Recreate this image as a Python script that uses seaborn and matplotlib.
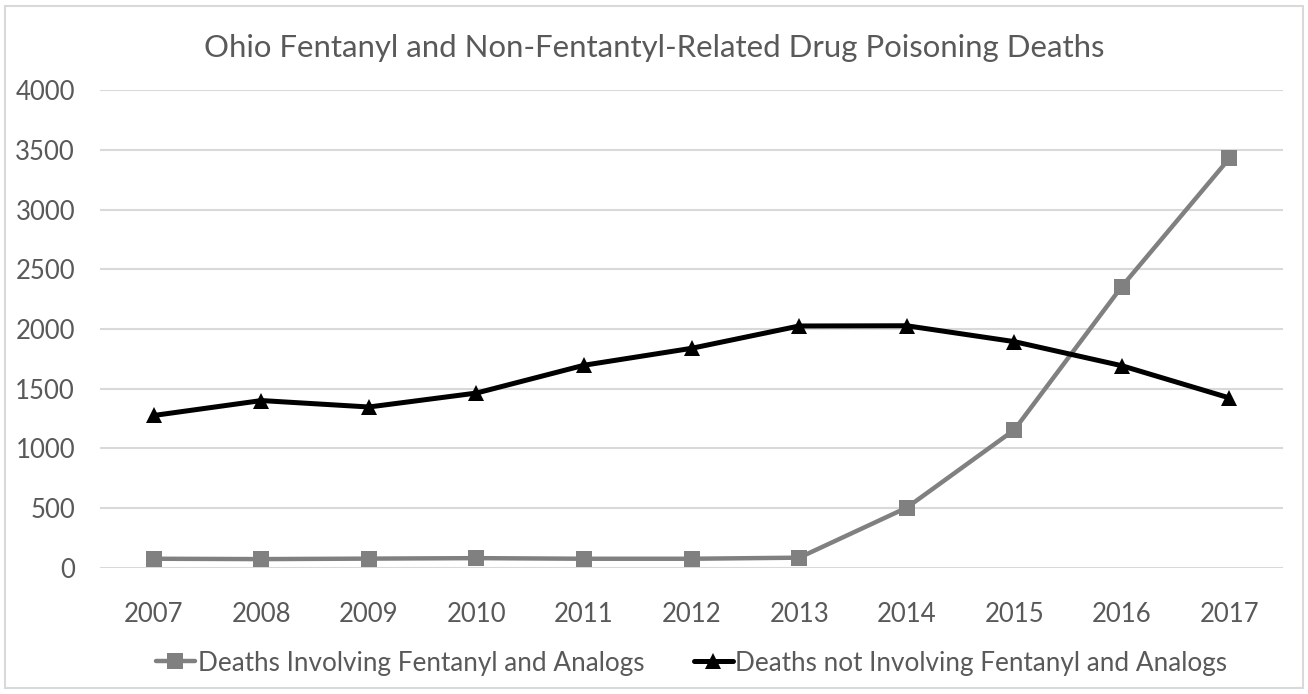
import pandas as pd
import seaborn as sns
import matplotlib.pyplot as plt
from matplotlib.patches import Rectangle

years = [2007, 2008, 2009, 2010, 2011, 2012, 2013, 2014, 2015, 2016, 2017]
fentanyl = [75, 72, 76, 80, 75, 75, 84, 503, 1155, 2357, 3431]
non_fentanyl = [1276, 1401, 1347, 1464, 1697, 1839, 2026, 2028, 1895, 1693, 1423]
labels = ["Deaths Involving Fentanyl and Analogs",
          "Deaths not Involving Fentanyl and Analogs"]
title = "Ohio Fentanyl and Non-Fentantyl-Related Drug Poisoning Deaths"

TEXT = "#595959"

sns.set_theme(style="white")
plt.rcParams['font.family'] = ['Lato', 'DejaVu Sans']

df = pd.DataFrame({"Year": years * 2,
                   "Deaths": fentanyl + non_fentanyl,
                   "Series": [labels[0]] * len(years) + [labels[1]] * len(years)})

fig = plt.figure(figsize=(13.08, 6.94), dpi=100)
ax = fig.add_axes([0.0765, 0.182, 0.9045, 0.6876])

sns.lineplot(data=df, x="Year", y="Deaths", hue="Series", style="Series",
             palette={labels[0]: "#808080", labels[1]: "#000000"},
             markers={labels[0]: "s", labels[1]: "^"},
             dashes=False, markersize=12, markeredgewidth=0, ax=ax)
for line, lw in zip(ax.lines, [3.2, 3.6]):
    line.set_linewidth(lw)

ax.set_xlim(2006.5, 2017.5)
ax.set_ylim(0, 4000)
ax.set_yticks(range(0, 4001, 500))
ax.set_xticks(years)
ax.set_xticklabels([str(y) for y in years])
ax.grid(axis="y", color="#d9d9d9", linewidth=1.5)
ax.grid(axis="x", visible=False)
for s in ax.spines.values():
    s.set_visible(False)
ax.tick_params(axis="both", length=0, labelsize=18.5, labelcolor=TEXT)
ax.tick_params(axis="x", pad=25)
ax.tick_params(axis="y", pad=18)
ax.set_xlabel("")
ax.set_ylabel("")

fig.text(0.5, 0.931, title, ha="center", va="center", fontsize=22.4, color=TEXT)

handles, lbls = ax.get_legend_handles_labels()
for h, lw in zip(handles, [3.2, 3.6]):
    h.set_linewidth(lw)
ax.legend(handles, lbls, loc="center", bbox_to_anchor=(0.5, -0.2),
          ncol=2, frameon=False, fontsize=18.8, labelcolor=TEXT,
          handlelength=1.5, handletextpad=0.1, columnspacing=1.9)

fig.patches.append(Rectangle((0.004, 0.008), 0.992, 0.984, transform=fig.transFigure,
                             fill=False, edgecolor="#d9d9d9", linewidth=1.5))

fig.savefig("out.png", dpi=100)
